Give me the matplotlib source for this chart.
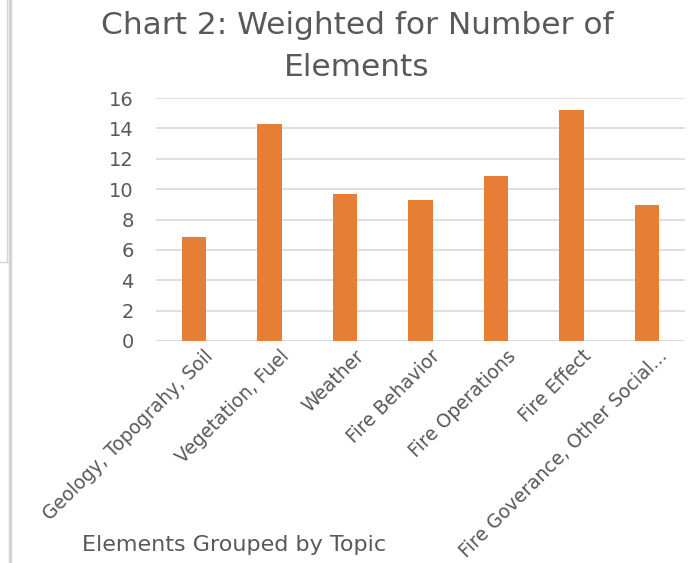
import matplotlib.pyplot as plt
import matplotlib.transforms as mtransforms
from matplotlib.lines import Line2D

topics = ["Geology, Topograhy, Soil", "Vegetation, Fuel", "Weather",
          "Fire Behavior", "Fire Operations", "Fire Effect",
          "Fire Goverance, Other Social..."]
weighted = [6.85, 14.27, 9.70, 9.28, 10.88, 15.19, 8.93]
yticks = [0, 2, 4, 6, 8, 10, 12, 14, 16]

plt.rcParams['font.family'] = ['DejaVu Sans']
txt = '#595959'

W, H = 699, 563
fig = plt.figure(figsize=(W / 100, H / 100), dpi=100)
ax = fig.add_axes([156 / W, 1 - 341 / H, (685 - 156) / W, (341 - 98) / H])

x = range(len(topics))
ax.bar(x, weighted, width=0.325, color='#E67E36', zorder=3)
ax.set_xlim(-0.5, len(topics) - 0.5)
ax.set_ylim(0, 16)
ax.set_yticks(yticks)
ax.set_yticklabels([str(v) for v in yticks], color=txt, fontsize=14)
ax.set_xticks(list(x))
ax.set_xticklabels(topics, rotation=45, ha='right', rotation_mode='anchor',
                   color=txt, fontsize=13.5)
ax.tick_params(axis='y', length=0, pad=16)
ax.tick_params(axis='x', length=0, pad=4)
shift = mtransforms.ScaledTranslation(0.1, 0, fig.dpi_scale_trans)
for lab in ax.get_xticklabels():
    lab.set_transform(lab.get_transform() + shift)
ax.grid(axis='y', color='#D9D9D9', linewidth=1.2, zorder=0)
for s in ax.spines.values():
    s.set_visible(False)

fig.text(357 / W, 1 - 25 / H, "Chart 2: Weighted for Number of", ha='center',
         va='center', fontsize=22.5, color=txt)
fig.text(357 / W, 1 - 67 / H, "Elements", ha='center', va='center',
         fontsize=22.5, color=txt)
fig.text(234 / W, 1 - 545 / H, "Elements Grouped by Topic", ha='center',
         va='center', fontsize=16, color=txt)

# window frame on the left edge
fig.add_artist(Line2D([9.5 / W, 9.5 / W], [0, 1], color='#D4D4D4', linewidth=2.5,
                      transform=fig.transFigure))
fig.add_artist(Line2D([7 / W, 7 / W], [1, 1 - 262 / H], color='#D4D4D4', linewidth=1,
                      transform=fig.transFigure))
fig.add_artist(Line2D([0, 8 / W], [1 - 262 / H, 1 - 262 / H], color='#D4D4D4',
                      linewidth=1, transform=fig.transFigure))

fig.savefig('out.png', dpi=100, facecolor='white')
